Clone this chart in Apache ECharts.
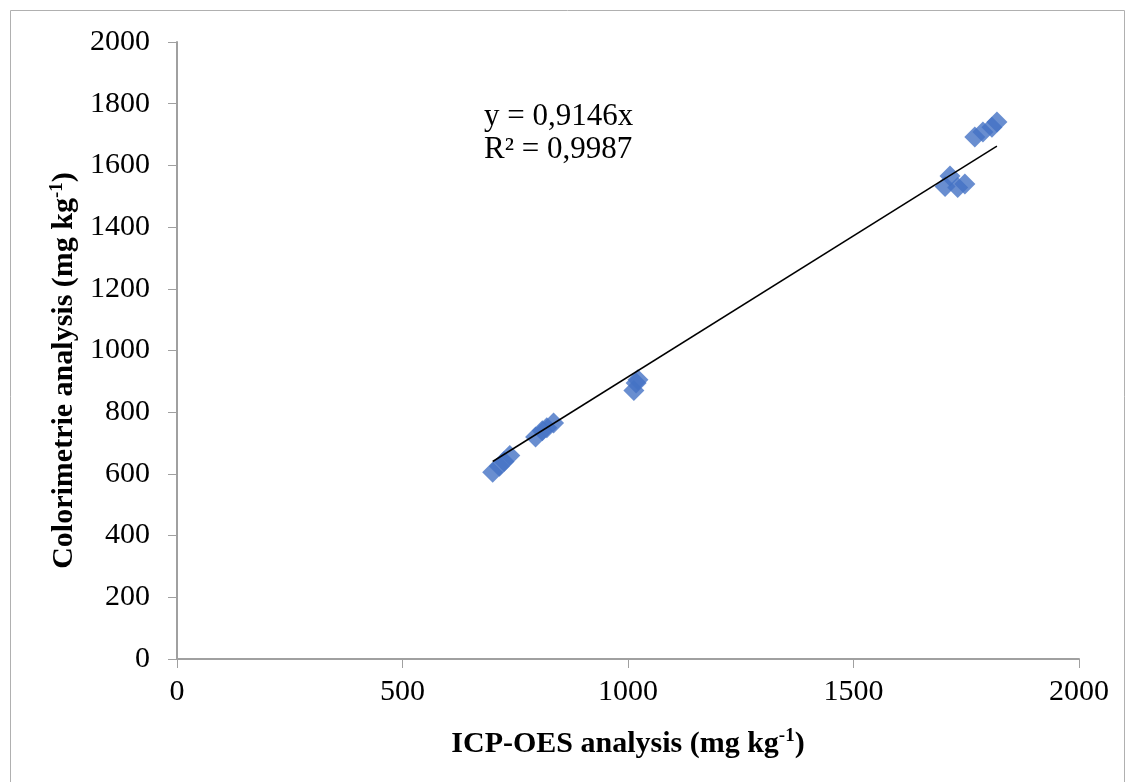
<!DOCTYPE html>
<html>
<head>
<meta charset="utf-8">
<script src="https://cdn.jsdelivr.net/npm/echarts@6/dist/echarts.min.js"></script>
<style>
  html, body { margin: 0; padding: 0; background: #fff; }
  #chart { width: 1127px; height: 782px; }
</style>
</head>
<body>
<div id="chart"></div>
<script>
// ICP-OES (x) vs colorimetric (y), mg/kg
const icpValues = [700, 715, 725, 738, 795, 810, 820, 835, 1013, 1018, 1022, 1703, 1714, 1731, 1747, 1769, 1787, 1807, 1818];
const colorValues = [605, 625, 640, 660, 720, 740, 750, 765, 870, 895, 905, 1532, 1566, 1528, 1540, 1692, 1708, 1724, 1741];
const slope = 0.9146;
const r2 = '0,9987';
const xTicks = [0, 500, 1000, 1500, 2000];

const points = icpValues.map((x, i) => [x, colorValues[i]]);
const xMin = Math.min(...icpValues);
const xMax = Math.max(...icpValues);
const trend = [[xMin, slope * xMin], [xMax, slope * xMax]];

const font = '"Liberation Serif", "Times New Roman", serif';
const titleRich = {
  t: { fontSize: 30, fontWeight: 'bold', color: '#000', fontFamily: font },
  s: { fontSize: 19, fontWeight: 'bold', color: '#000', fontFamily: font, padding: [0, 0, 15, 0] }
};

let myEcharts = echarts.init(document.getElementById('chart'));
let option = {
  animation: false,
  backgroundColor: '#fff',
  textStyle: { fontFamily: font },
  grid: { left: 177, right: 48, top: 42, bottom: 123 },
  graphic: [
    {
      type: 'rect',
      shape: { x: 10.5, y: 10.5, width: 1114, height: 780 },
      style: { fill: 'none', stroke: '#b0b0b0', lineWidth: 1 }
    },
    {
      type: 'text',
      left: 484,
      top: 100,
      style: {
        text: 'y = 0,9146x\nR² = ' + r2,
        font: '31px ' + font,
        fill: '#000',
        lineHeight: 33
      }
    }
  ],
  xAxis: {
    type: 'value',
    min: xTicks[0],
    max: xTicks[xTicks.length - 1],
    interval: 500,
    splitLine: { show: false },
    axisLine: { lineStyle: { color: '#a0a0a0', width: 2 } },
    axisTick: { length: 9, lineStyle: { color: '#a0a0a0', width: 1 } },
    axisLabel: { color: '#000', fontSize: 30, margin: 18, fontFamily: font, formatter: v => String(v) },
    name: '{t|ICP-OES analysis (mg kg}{s|-1}{t|)}',
    nameLocation: 'middle',
    nameGap: 68,
    nameTextStyle: { rich: titleRich }
  },
  yAxis: {
    type: 'value',
    min: 0,
    max: 2000,
    interval: 200,
    splitLine: { show: false },
    axisLine: { show: true, lineStyle: { color: '#a0a0a0', width: 2 } },
    axisTick: { show: true, length: 9, lineStyle: { color: '#a0a0a0', width: 1 } },
    axisLabel: { color: '#000', fontSize: 30, margin: 27, fontFamily: font, formatter: v => String(v) },
    name: '{t|Colorimetrie analysis (mg kg}{s|-1}{t|)}',
    nameLocation: 'middle',
    nameRotate: 90,
    nameGap: 90,
    nameTextStyle: { rich: titleRich, padding: [0, 40, 0, 0] }
  },
  series: [
    {
      type: 'scatter',
      data: points,
      symbol: 'diamond',
      symbolSize: 21,
      itemStyle: { color: '#4472C4' },
      z: 2
    },
    {
      type: 'line',
      data: trend,
      symbol: 'none',
      lineStyle: { color: '#000', width: 1.5 },
      z: 3
    }
  ]
};
myEcharts.setOption(option);
</script>
</body>
</html>
